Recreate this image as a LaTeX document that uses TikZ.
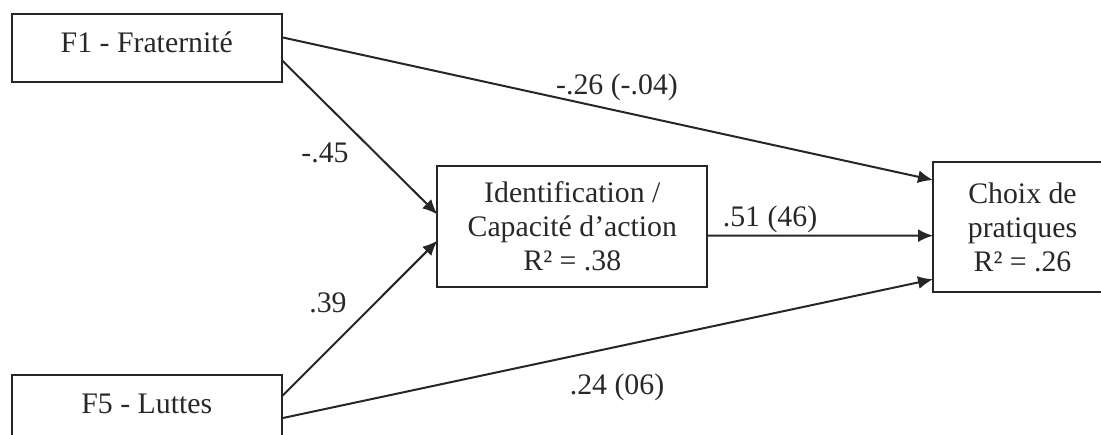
\documentclass[tikz,border=0pt]{standalone}
\usepackage{fontspec}
\setmainfont{Liberation Serif}
\usetikzlibrary{arrows.meta,calc}
\definecolor{ink}{RGB}{38,38,38}
\definecolor{txt}{RGB}{40,40,40}
\begin{document}
\begin{tikzpicture}[x=1pt,y=-1pt,
  box/.style={draw=ink, line width=2pt, inner sep=0pt, outer sep=0pt,
    font=\fontsize{29.8}{34}\selectfont, text=txt},
  onebox/.style={box, text height=20pt, text depth=11pt},
  multibox/.style={box, align=center},
  arr/.style={draw=ink, line width=2pt, -{Latex[length=15pt,width=13pt]}},
  lab/.style={anchor=base, inner sep=0pt, font=\fontsize{29.8}{34}\selectfont, text=txt}]
\clip (0,0) rectangle (1101,435);
\node[onebox, minimum width=269.7pt, minimum height=67.7pt] (f1) at (146.8,47.8) {F1 - Fraternité};
\node[onebox, minimum width=269.7pt, minimum height=67.7pt] (f5) at (146.8,408.8) {F5 - Luttes};
\node[multibox, minimum width=269.7pt, minimum height=121pt] (id) at (572.3,226.5) {Identification /\\Capacité d’action\\R² = .38};
\node[multibox, minimum width=179pt, minimum height=129.4pt] (ch) at (1022.5,227) {Choix de\\pratiques\\R² = .26};
% connectors
\draw[arr] ($(f1.north east)!0.344!(f1.south east)$) -- ($(ch.north west)!0.137!(ch.south west)$);
\draw[arr] ($(f1.north east)!0.68!(f1.south east)$) -- ($(id.north west)!0.40!(id.south west)$);
\draw[arr] ($(f5.north east)!0.32!(f5.south east)$) -- ($(id.north west)!0.617!(id.south west)$);
\draw[arr] ($(f5.north east)!0.64!(f5.south east)$) -- ($(ch.north west)!0.904!(ch.south west)$);
\draw[arr] ($(id.north east)!0.575!(id.south east)$) -- ($(ch.north west)!0.567!(ch.south west)$);
% labels
\node[lab] (l1) at (617,95) {-.26 (-.04)};
\node[lab] (l2) at (325,163) {-.45};
\node[lab] (l3) at (328,313) {.39};
\node[lab] (l4) at (770,227) {.51 (46)};
\node[lab] (l5) at (617,395) {.24 (06)};
\end{tikzpicture}
\end{document}
